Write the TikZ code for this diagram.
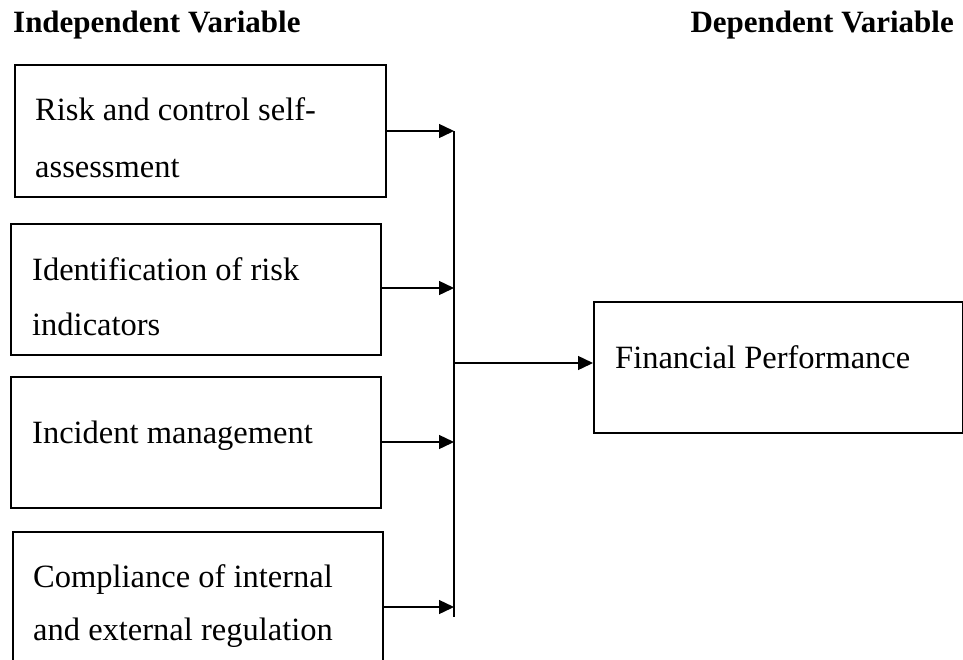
\documentclass[tikz,border=0pt]{standalone}
\usepackage{fontspec}
\setmainfont{Liberation Serif}
\usetikzlibrary{arrows.meta}
\begin{document}
\begin{tikzpicture}[x=1pt,y=-1pt,
  box/.style={draw, line width=1.9pt, rectangle, inner sep=0pt, anchor=north west},
  lbl/.style={anchor=base west, inner sep=0pt, font=\fontsize{32.5}{57}\selectfont},
  head/.style={anchor=base west, inner sep=0pt, font=\fontsize{31}{37}\selectfont\bfseries},
  arr/.style={line width=1.4pt, -{Triangle[length=15pt,width=14pt]}},
  bus/.style={line width=1.7pt}]
\useasboundingbox (0,0) rectangle (963,659);
\clip (0,0) rectangle (963,659);
% headings
\node[head] (h1) at (13,32) {Independent Variable};
\node[head, anchor=base east] (h2) at (954,32) {Dependent Variable};
% boxes
\node[box, minimum width=371pt, minimum height=132pt] (b1) at (14,64) {};
\node[box, minimum width=370pt, minimum height=131pt] (b2) at (10,223) {};
\node[box, minimum width=370pt, minimum height=131pt] (b3) at (10,376) {};
\node[box, minimum width=370pt, minimum height=140pt] (b4) at (12,531) {};
\node[box, minimum width=369pt, minimum height=131pt] (fp) at (593,301) {};
% texts
\node[lbl] (t1a) at (35,120) {Risk and control self-};
\node[lbl] (t1b) at (35,177) {assessment};
\node[lbl] (t2a) at (32,280) {Identification of risk};
\node[lbl] (t2b) at (32,335) {indicators};
\node[lbl] (t3a) at (32,443) {Incident management};
\node[lbl] (t4a) at (33,587) {Compliance of internal};
\node[lbl] (t4b) at (33,640) {and external regulation};
\node[lbl] (tf) at (615,368) {Financial Performance};
% bus
\coordinate (top) at (454,131);
\coordinate (bot) at (454,617);
\coordinate (c1) at (454,131);
\coordinate (c2) at (454,288);
\coordinate (c3) at (454,442);
\coordinate (c4) at (454,607);
\coordinate (cm) at (454,363);
\draw[bus] (top) -- (bot);
\draw[arr] (b1.east |- c1) -- (c1);
\draw[arr] (b2.east |- c2) -- (c2);
\draw[arr] (b3.east |- c3) -- (c3);
\draw[arr] (b4.east |- c4) -- (c4);
\draw[arr] (cm) -- (fp.west |- cm);
\end{tikzpicture}
\end{document}
